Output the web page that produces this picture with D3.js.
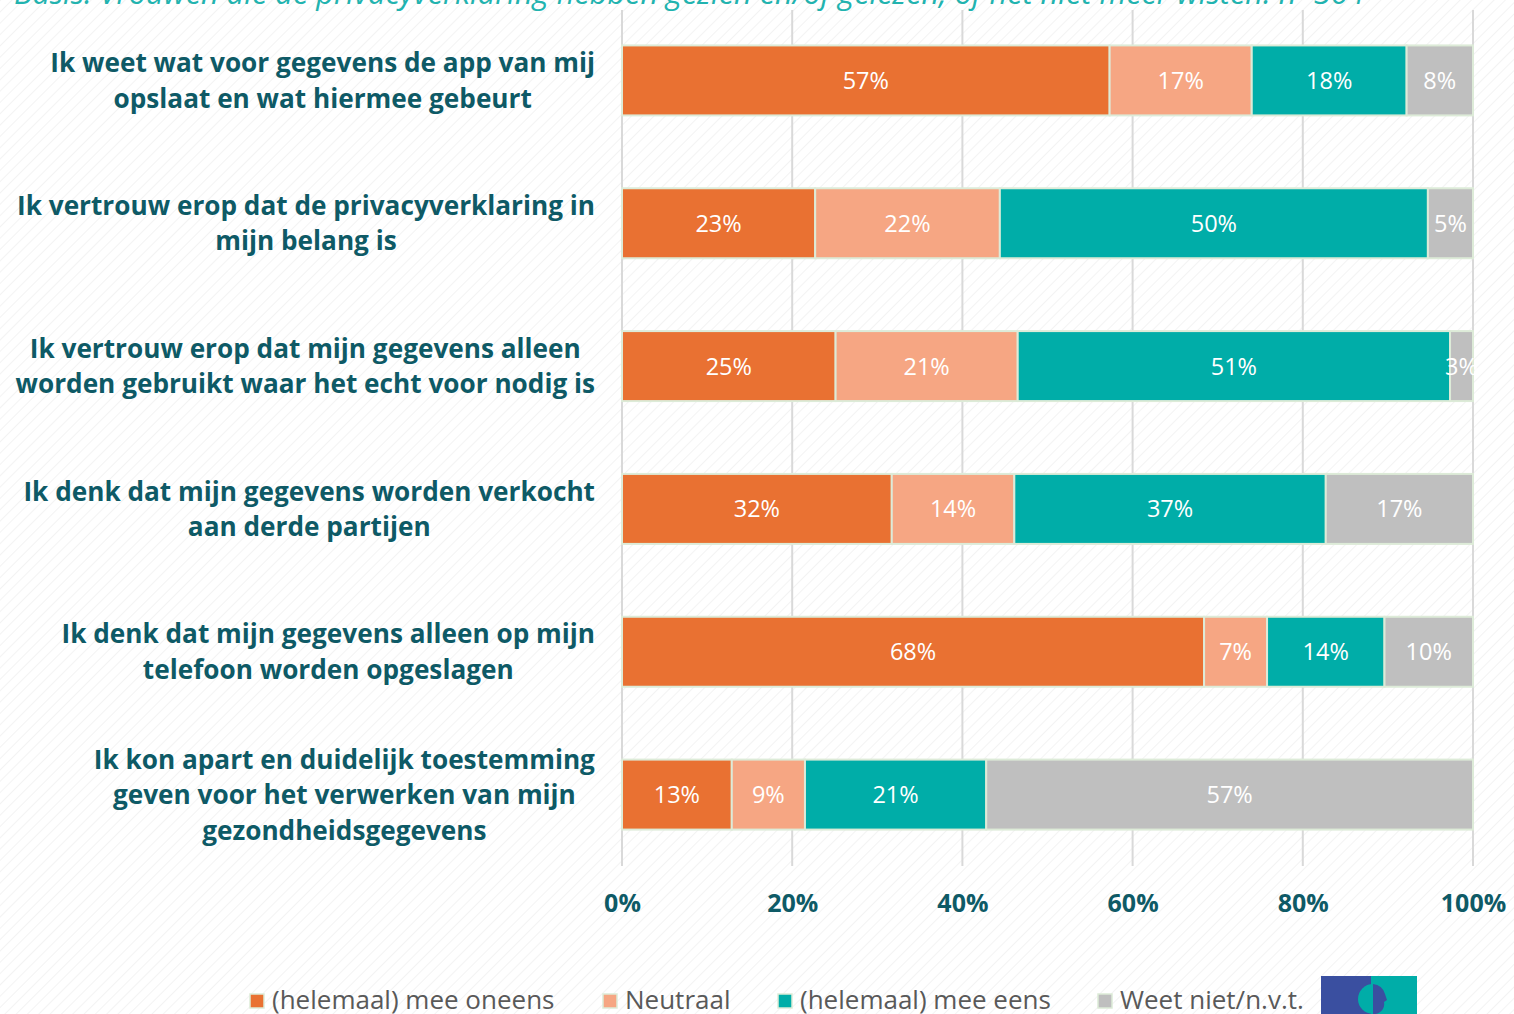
<!DOCTYPE html>
<html><head><meta charset="utf-8">
<script src="https://cdn.jsdelivr.net/npm/d3@7"></script>
<style>
html,body{margin:0;padding:0;background:#fff;overflow:hidden}
svg{display:block}
</style></head>
<body>
<svg id="chart" width="1514" height="1014"></svg>
<script>
const subtitle = "Basis: Vrouwen die de privacyverklaring hebben gezien en/of gelezen, of het niet meer wisten. n=364";
const categories = [
  ["Ik weet wat voor gegevens de app van mij", "opslaat en wat hiermee gebeurt"],
  ["Ik vertrouw erop dat de privacyverklaring in", "mijn belang is"],
  ["Ik vertrouw erop dat mijn gegevens alleen", "worden gebruikt waar het echt voor nodig is"],
  ["Ik denk dat mijn gegevens worden verkocht", "aan derde partijen"],
  ["Ik denk dat mijn gegevens alleen op mijn", "telefoon worden opgeslagen"],
  ["Ik kon apart en duidelijk toestemming", "geven voor het verwerken van mijn", "gezondheidsgegevens"]
];
const seriesNames = ["(helemaal) mee oneens", "Neutraal", "(helemaal) mee eens", "Weet niet/n.v.t."];
const oneens  = [57.3, 22.7, 25.1, 31.7, 68.4, 12.9];
const neutraal = [16.7, 21.7, 21.4, 14.4, 7.4, 8.6];
const eens    = [18.2, 50.3, 50.8, 36.6, 13.8, 21.3];
const weetNiet = [7.8, 5.3, 2.7, 17.3, 10.4, 57.2];
const tickValues = [0, 20, 40, 60, 80, 100];
const colors = ["#E97132", "#F6A683", "#00ADA8", "#BFBFBF"];

const svg = d3.select("#chart");
const W = 1514, H = 1014;
const FONT = "Open Sans, sans-serif";

// background hatch
const defs = svg.append("defs");
const pat = defs.append("pattern").attr("id","hatch").attr("patternUnits","userSpaceOnUse")
  .attr("width",8).attr("height",8).attr("patternTransform","rotate(45)");
pat.append("rect").attr("width",8).attr("height",8).attr("fill","#ffffff");
pat.append("line").attr("x1",0).attr("y1",0).attr("x2",0).attr("y2",8)
  .attr("stroke","#ececec").attr("stroke-width",1.2);
svg.append("rect").attr("width",W).attr("height",H).attr("fill","url(#hatch)");

// subtitle (clipped at top)
const sub = svg.append("text").attr("x",14).attr("y",4)
  .attr("font-family",FONT).attr("font-style","italic")
  .attr("font-size",26).attr("fill","#22B3AF").text(subtitle);
const sw = sub.node().getComputedTextLength();
sub.attr("font-size", 26*1351/sw);

const x = d3.scaleLinear().domain([0,100]).range([622,1473]);
const y = d3.scaleBand().domain(d3.range(categories.length)).range([9,866]).paddingInner(0.51).paddingOuter(0.255);

// gridlines
svg.append("g").selectAll("line").data(tickValues).join("line")
  .attr("x1",d=>x(d)).attr("x2",d=>x(d)).attr("y1",10).attr("y2",866)
  .attr("stroke","#d9d9d9").attr("stroke-width",2);

// axis tick labels via d3 axis
const axisG = svg.append("g").attr("transform","translate(0,866)")
  .call(d3.axisBottom(x).tickValues(tickValues).tickFormat(d=>d+"%").tickSize(0).tickPadding(28));
axisG.select(".domain").remove();
axisG.selectAll("text").attr("font-family",FONT).attr("font-weight",700)
  .attr("font-size",25).attr("fill","#0E5A66");

// stacked data
const rows = categories.map((c,i)=>({i, vals:[oneens[i],neutraal[i],eens[i],weetNiet[i]]}));
const stack = d3.stack().keys([0,1,2,3]).value((d,k)=>d.vals[k]);
const stacked = stack(rows);

const gBars = svg.append("g");
stacked.forEach((layer,k)=>{
  const g = gBars.append("g");
  g.selectAll("rect").data(layer).join("rect")
    .attr("x",d=>x(d[0])).attr("y",d=>y(d.data.i))
    .attr("width",d=>x(d[1])-x(d[0])).attr("height",y.bandwidth())
    .attr("fill",colors[k]).attr("stroke","#DDEBD8").attr("stroke-width",2);
});
stacked.forEach((layer,k)=>{
  gBars.append("g").selectAll("text").data(layer).join("text")
    .attr("x",d=>(x(d[0])+x(d[1]))/2).attr("y",d=>y(d.data.i)+y.bandwidth()/2)
    .attr("dy","0.36em").attr("text-anchor","middle")
    .attr("font-family",FONT).attr("font-size",23.5).attr("fill","#ffffff")
    .text(d=>Math.round(d[1]-d[0])+"%");
});

// category labels
const labG = svg.append("g");
categories.forEach((lines,i)=>{
  const cy = y(i)+y.bandwidth()/2;
  const lh = 35.5;
  const t = labG.append("text").attr("font-family",FONT).attr("font-weight",700)
    .attr("font-size",26.2).attr("fill","#0E5A66").attr("text-anchor","middle");
  lines.forEach((ln,j)=>{
    t.append("tspan").attr("x",0).attr("y",cy+(j-(lines.length-1)/2)*lh).attr("dy","0.36em").text(ln);
  });
  const w = t.node().getBBox().width;
  t.attr("transform",`translate(${595-w/2},0)`);
});

// legend
const legX = [250, 603, 778, 1098];
const legG = svg.append("g");
seriesNames.forEach((n,k)=>{
  legG.append("rect").attr("x",legX[k]).attr("y",994).attr("width",14).attr("height",14)
    .attr("fill",colors[k]).attr("stroke","#DDEBD8").attr("stroke-width",1.5);
  legG.append("text").attr("x",legX[k]+22).attr("y",1000).attr("dy","0.36em")
    .attr("font-family",FONT).attr("font-size",26).attr("fill","#595959").text(n);
});

// logo
const logo = svg.append("g");
logo.append("rect").attr("x",1321).attr("y",976).attr("width",50).attr("height",40).attr("fill","#3A4FA0");
logo.append("rect").attr("x",1371).attr("y",976).attr("width",46).attr("height",40).attr("fill","#00ADA8");
logo.append("path").attr("d","M1373,984 a14,14 0 0 0 0,30 z").attr("fill","#00ADA8");
logo.append("path").attr("d","M1373,984 a14,14 0 0 1 12,10 l2,6 l-3,2 a10,10 0 0 1 -11,12 z").attr("fill","#3A4FA0");
</script>
</body></html>
